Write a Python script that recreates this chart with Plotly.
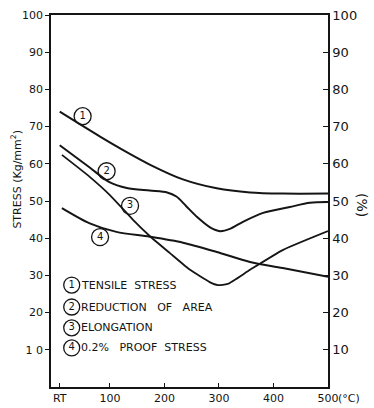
import plotly.graph_objects as go

RT = 8  # x-position used for "RT" (room temperature)

# Curve 1: tensile stress (left axis, kg/mm2)
t1 = [RT, 82, 130, 173, 234, 296, 357, 417, 500]
v1 = [74, 67.3, 63.2, 59.8, 55.8, 53.4, 52.3, 52, 52]

# Curve 2: reduction of area (right axis, %)
t2 = [RT, 63, 100, 131, 173, 205, 222, 240, 260, 283, 302, 320, 344, 381, 430, 467, 500]
v2 = [65, 59, 55, 53.5, 52.8, 52.3, 51.2, 48.6, 45.7, 43, 41.9, 42.5, 44.4, 46.8, 48.4, 49.5, 49.7]

# Curve 3: elongation (right axis, %)
t3 = [12, 63, 100, 142, 173, 210, 247, 283, 298, 316, 357, 417, 500]
v3 = [62.4, 56.5, 51.6, 45, 40.6, 36, 31.5, 28.2, 27.4, 27.7, 31.5, 36.8, 41.9]

# Curve 4: 0.2% proof stress (left axis, kg/mm2)
t4 = [12, 63, 112, 173, 234, 296, 357, 417, 500]
v4 = [48.1, 44, 41.7, 40.4, 38.8, 36.3, 33.6, 32, 29.6]

x_tickvals = [RT, 100, 200, 300, 400, 500]
x_ticktext = ["RT", "100", "200", "300", "400", "500"]
y_ticks = [10, 20, 30, 40, 50, 60, 70, 80, 90, 100]
y_ticktext = ["1 0", "20", "30", "40", "50", "60", "70", "80", "90", "100"]

curve_labels = ["1", "2", "3", "4"]
curve_label_x = [50, 94, 137, 82]
curve_label_y = [72.8, 58, 48.7, 40.3]

legend_names = ["TENSILE\u00a0\u00a0STRESS", "REDUCTION\u00a0\u00a0\u00a0OF\u00a0\u00a0\u00a0AREA",
                "ELONGATION", "0.2%\u00a0\u00a0\u00a0PROOF\u00a0\u00a0STRESS"]
legend_y = [27.4, 21.5, 15.9, 10.5]
legend_x = 30

INK = "#151515"
FONT = "DejaVu Sans"

fig = go.Figure()
line = dict(color=INK, width=2, shape="spline", smoothing=0.8)
fig.add_trace(go.Scatter(x=t1, y=v1, mode="lines", line=line, yaxis="y"))
fig.add_trace(go.Scatter(x=t2, y=v2, mode="lines", line=line, yaxis="y2"))
fig.add_trace(go.Scatter(x=t3, y=v3, mode="lines", line=dict(color=INK, width=1.8, shape="spline", smoothing=0.5), yaxis="y2"))
fig.add_trace(go.Scatter(x=t4, y=v4, mode="lines", line=line, yaxis="y"))

# circled labels on curves
fig.add_trace(go.Scatter(
    x=curve_label_x, y=curve_label_y, mode="markers+text", text=curve_labels,
    textposition="middle center", textfont=dict(family=FONT, size=10, color=INK),
    marker=dict(symbol="circle-open", size=17, color=INK, line=dict(width=1.3)),
    yaxis="y"))

# legend circles
fig.add_trace(go.Scatter(
    x=[legend_x] * 4, y=legend_y, mode="markers+text", text=curve_labels,
    textposition="middle center", textfont=dict(family=FONT, size=10, color=INK),
    marker=dict(symbol="circle-open", size=16, color=INK, line=dict(width=1.3)),
    yaxis="y"))

annotations = []
for name, yy in zip(legend_names, legend_y):
    annotations.append(dict(x=legend_x + 13, y=yy, xref="x", yref="y", text=name,
                            showarrow=False, xanchor="left", yanchor="middle",
                            font=dict(family=FONT, size=11, color=INK)))

annotations.append(dict(x=-0.123, y=0.56, xref="paper", yref="paper",
                        text="STRESS (Kg/mm<sup>2</sup>)", textangle=-90, showarrow=False,
                        xanchor="center", yanchor="middle",
                        font=dict(family=FONT, size=11, color=INK)))
annotations.append(dict(x=1.125, y=0.49, xref="paper", yref="paper",
                        text="(%)", textangle=90, showarrow=False,
                        xanchor="center", yanchor="middle",
                        font=dict(family=FONT, size=14, color=INK)))
annotations.append(dict(x=1.028, y=-0.03, xref="paper", yref="paper",
                        text="(°C)", showarrow=False,
                        xanchor="left", yanchor="middle",
                        font=dict(family=FONT, size=11, color=INK)))

fig.update_layout(
    width=374, height=408,
    margin=dict(l=51, r=46, t=15, b=21, pad=0, autoexpand=False),
    paper_bgcolor="white", plot_bgcolor="white",
    showlegend=False,
    font=dict(family=FONT, size=11, color=INK),
    annotations=annotations,
    xaxis=dict(range=[-8, 500], tickvals=x_tickvals, ticktext=x_ticktext,
               automargin=False,
               showgrid=False, zeroline=False, showline=True, linecolor=INK,
               linewidth=1.5, mirror=True, ticks="inside", ticklen=4,
               tickcolor=INK, tickfont=dict(family=FONT, size=11, color=INK)),
    yaxis=dict(range=[0, 100], tickvals=y_ticks, ticktext=y_ticktext,
               automargin=False,
               showgrid=False, zeroline=False, showline=True, linecolor=INK,
               linewidth=1.5, ticks="outside", ticklen=4, tickcolor=INK,
               tickfont=dict(family=FONT, size=11, color=INK)),
    yaxis2=dict(range=[0, 100], tickvals=y_ticks, overlaying="y", side="right",
                automargin=False,
                showgrid=False, zeroline=False, showline=True, linecolor=INK,
                linewidth=1.5, ticks="inside", ticklen=5, tickcolor=INK,
                tickfont=dict(family=FONT, size=13, color=INK)),
)

fig.write_html("out.html")
